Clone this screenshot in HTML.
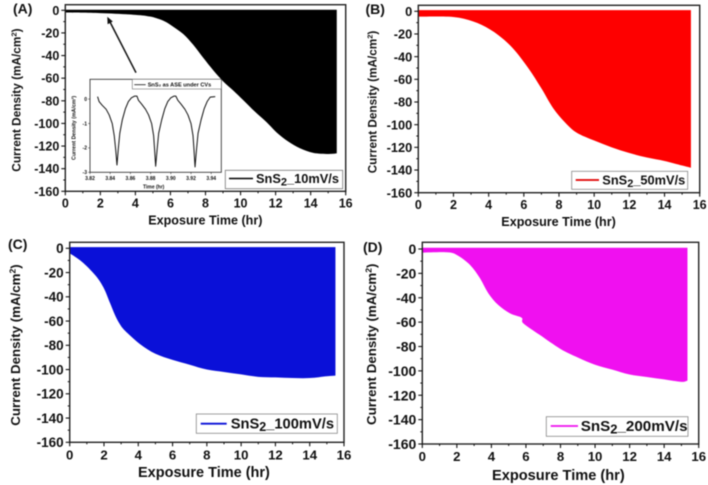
<!DOCTYPE html>
<html lang="en">
<head>
<meta charset="utf-8">
<title>SnS2 current density vs exposure time</title>
<style>
html,body{margin:0;padding:0;background:#fff;width:708px;height:485px;overflow:hidden}
svg{display:block;filter:blur(0.4px)}
text{font-family:"Liberation Sans",sans-serif;font-weight:bold;fill:#111}
</style>
</head>
<body>
<svg id="fig" xmlns="http://www.w3.org/2000/svg" width="708" height="485" viewBox="0 0 708 485">
  <rect width="708" height="485" fill="#fff"/>
  <g id="panelA"></g>
  <g id="panelB"></g>
  <g id="panelC"></g>
  <g id="panelD"></g>

  <text x="13" y="13.5" font-size="14">(A)</text>
  <text x="365.5" y="14" font-size="14">(B)</text>
  <text x="8" y="249" font-size="14">(C)</text>
  <text x="363" y="252" font-size="14">(D)</text>

  <text x="148.3" y="224.5" font-size="12.55">Exposure Time (hr)</text>
  <text x="501.3" y="226" font-size="12.6">Exposure Time (hr)</text>
  <text x="138" y="477" font-size="14.5">Exposure Time (hr)</text>
  <text x="492" y="480" font-size="14.6">Exposure Time (hr)</text>

  <text transform="translate(20.5,171.7) rotate(-90)" font-size="11.8">Current Density (mA/cm<tspan dy="-4" font-size="7.7">2</tspan><tspan dy="4">)</tspan></text>
  <text transform="translate(376.5,173.3) rotate(-90)" font-size="11.75">Current Density (mA/cm<tspan dy="-4" font-size="7.6">2</tspan><tspan dy="4">)</tspan></text>
  <text transform="translate(20,425.7) rotate(-90)" font-size="13.3">Current Density (mA/cm<tspan dy="-4.5" font-size="8.6">2</tspan><tspan dy="4.5">)</tspan></text>
  <text transform="translate(376,425) rotate(-90)" font-size="13.3">Current Density (mA/cm<tspan dy="-4.5" font-size="8.6">2</tspan><tspan dy="4.5">)</tspan></text>

  <g id="insetHolder"></g>

  <g>
    <rect x="225.3" y="170.3" width="117.4" height="18.4" fill="#fff" stroke="#777" stroke-width="0.8"/>
    <line x1="229" x2="253" y1="178.5" y2="178.5" stroke="#000" stroke-width="1.6"/>
    <text x="256" y="183" font-size="12.8">SnS<tspan dy="2.5" font-size="11">2</tspan><tspan dy="-2.5">_10mV/s</tspan></text>
  </g>
  <g>
    <rect x="571.7" y="171.3" width="116" height="18" fill="#fff" stroke="#888" stroke-width="0.8"/>
    <line x1="575.7" x2="599" y1="180" y2="180" stroke="#e00000" stroke-width="1.8"/>
    <text x="602.3" y="184.5" font-size="12.8">SnS<tspan dy="2.5" font-size="11">2</tspan><tspan dy="-2.5">_50mV/s</tspan></text>
  </g>
  <g>
    <rect x="196.3" y="414" width="141" height="19.3" fill="#fff" stroke="#888" stroke-width="0.8"/>
    <line x1="200.7" x2="226.7" y1="423.7" y2="423.7" stroke="#0a10d8" stroke-width="1.8"/>
    <text x="230.7" y="428.5" font-size="14.7">SnS<tspan dy="2.5" font-size="12.5">2</tspan><tspan dy="-2.5">_100mV/s</tspan></text>
  </g>
  <g>
    <rect x="546.3" y="416.7" width="141.7" height="19.6" fill="#fff" stroke="#888" stroke-width="0.8"/>
    <line x1="550.7" x2="578" y1="426" y2="426" stroke="#ee10ee" stroke-width="1.8"/>
    <text x="580.7" y="431" font-size="15.2">SnS<tspan dy="2.5" font-size="13">2</tspan><tspan dy="-2.5">_200mV/s</tspan></text>
  </g>
</svg>
<script>
// ---- Data ----
const xTickLabels = [0, 2, 4, 6, 8, 10, 12, 14, 16];
const yTickLabels = [0, -20, -40, -60, -80, -100, -120, -140, -160];
const xMinorTicks = [1, 3, 5, 7, 9, 11, 13, 15];
const yMinorTicks = [-10, -30, -50, -70, -90, -110, -130, -150];

const timeA = [0, 2, 4, 4.83, 5.3, 5.7, 6.16, 6.73, 7.3, 7.87, 8.44, 9.02, 9.59, 10.16, 10.82, 11.49, 12.06, 12.72, 13.39, 14.15, 15, 15.49];
const lowerA = [-2, -2.5, -4, -5.5, -7.5, -10, -14.5, -21, -30.5, -42, -53, -63, -71, -79.5, -89.6, -99, -108, -116, -122, -126, -127, -126.5];
const upperA = [0.5, 0.5, 0.5, 0.5, 0.5, 0.5, 0.5, 0.5, 0.5, 0.5, 0.5, 0.5, 0.5, 0.5, 0.5, 0.5, 0.5, 0.5, 0.5, 0.5, 0.5, 0.5];

const timeB = [0, 1.7, 2.65, 3.6, 4.55, 5.4, 6.25, 7, 7.67, 8.34, 9, 10, 11, 12, 13, 14, 15, 15.5];
const lowerB = [-4.7, -4.7, -6.8, -12, -21, -33, -50, -68, -85.5, -98, -107, -114, -120, -125, -129, -132, -136, -138];
const upperB = [1, 1, 1, 1, 1, 1, 1, 1, 1, 1, 1, 1, 1, 1, 1, 1, 1, 1];

const timeC = [0, 0.7, 1.48, 1.96, 2.35, 2.64, 2.9, 3.23, 4.1, 5, 6, 7, 8, 9, 10, 11, 12, 13, 14, 15, 15.5];
const lowerC = [-4.1, -11, -22, -32, -45, -55, -62, -68, -79, -87, -92, -96, -100, -102, -104, -106, -106.5, -107, -107, -105.5, -105];
const upperC = [1, 1, 1, 1, 1, 1, 1, 1, 1, 1, 1, 1, 1, 1, 1, 1, 1, 1, 1, 1, 1];

const timeD = [0, 1.41, 2, 2.76, 3.34, 3.82, 4.4, 5.08, 5.75, 5.85, 6.8, 8, 9, 10, 11, 12, 13, 14, 15, 15.35];
const lowerD = [-3, -2.7, -4.9, -13, -24, -36.3, -46, -52.8, -56.4, -61, -70.5, -82, -89, -95, -99, -103, -105, -107, -109, -108];
const upperD = [1, 1, 1, 1, 1, 1, 1, 1, 1, 1, 1, 1, 1, 1, 1, 1, 1, 1, 1, 1];

const insetTime = [3.8275, 3.829, 3.832, 3.836, 3.839, 3.842, 3.844, 3.8455, 3.8467, 3.848, 3.8495, 3.852, 3.855, 3.858, 3.861, 3.864, 3.8665, 3.868, 3.871, 3.875, 3.878, 3.881, 3.883, 3.884, 3.885, 3.8865, 3.888, 3.891, 3.894, 3.897, 3.900, 3.903, 3.905, 3.907, 3.910, 3.914, 3.917, 3.920, 3.922, 3.923, 3.924, 3.9255, 3.927, 3.930, 3.933, 3.936, 3.939, 3.944];
const insetCurrent = [0.1, -0.1, -0.25, -0.42, -0.65, -1.0, -1.5, -2.1, -2.7, -2.05, -1.4, -0.85, -0.4, -0.1, 0.05, 0.12, 0.12, -0.05, -0.2, -0.42, -0.65, -1.0, -1.5, -2.1, -2.75, -2.05, -1.4, -0.85, -0.4, -0.1, 0.05, 0.12, 0.12, -0.05, -0.2, -0.42, -0.65, -1.0, -1.5, -2.1, -2.78, -2.05, -1.4, -0.85, -0.4, -0.1, 0.08, 0.1];
const insetXTickLabels = [3.82, 3.84, 3.86, 3.88, 3.90, 3.92, 3.94];
const insetYTickLabels = [0, -1, -2, -3];

// ---- Drawing ----
const NS = 'http://www.w3.org/2000/svg';
function el(tag, attrs, parent) {
  const e = document.createElementNS(NS, tag);
  for (const k in attrs) e.setAttribute(k, attrs[k]);
  parent.appendChild(e);
  return e;
}
function linear(d0, d1, r0, r1) {
  return function (v) { return r0 + (v - d0) * (r1 - r0) / (d1 - d0); };
}
function areaPath(px, pyLow, pyUp) {
  const n = px.length;
  let d = 'M' + px[0].toFixed(2) + ' ' + pyUp[0].toFixed(2);
  for (let i = 1; i < n; i++) d += 'L' + px[i].toFixed(2) + ' ' + pyUp[i].toFixed(2);
  d += 'L' + px[n - 1].toFixed(2) + ' ' + pyLow[n - 1].toFixed(2);
  for (let i = n - 1; i > 0; i--) {
    const a = Math.min(i + 1, n - 1), b = i, c = i - 1, e = Math.max(i - 2, 0);
    const c1x = px[b] + (px[c] - px[a]) / 6, c1y = pyLow[b] + (pyLow[c] - pyLow[a]) / 6;
    const c2x = px[c] - (px[e] - px[b]) / 6, c2y = pyLow[c] - (pyLow[e] - pyLow[b]) / 6;
    d += 'C' + c1x.toFixed(2) + ' ' + c1y.toFixed(2) + ' ' + c2x.toFixed(2) + ' ' + c2y.toFixed(2) + ' ' + px[c].toFixed(2) + ' ' + pyLow[c].toFixed(2);
  }
  return d + 'Z';
}

function drawPanel(g, box, color, time, lower, upper, fs) {
  const x = linear(0, 16, box.l, box.r);
  const y = linear(0, -160, box.y0, box.yb);
  const area = el('path', { d: areaPath(time.map(x), lower.map(y), upper.map(y)), fill: color }, g);
  
  

  const frame = el('rect', { x: box.l, y: box.t, width: box.r - box.l, height: box.yb - box.t, fill: 'none', stroke: '#222', 'stroke-width': 1.4 }, g);
  
  

  xTickLabels.forEach(function (v) {
    const tick = el('line', { x1: x(v), x2: x(v), y1: box.yb, y2: box.yb + 4, stroke: '#111', 'stroke-width': 1.1 }, g);
    
    
    const label = el('text', { x: x(v), y: box.xLab, 'font-size': fs.x, 'text-anchor': 'middle' }, g);
    
    
    label.textContent = v;
  });
  xMinorTicks.forEach(function (v) {
    const tick = el('line', { x1: x(v), x2: x(v), y1: box.yb, y2: box.yb + 2, stroke: '#111', 'stroke-width': 1 }, g);
    
    
  });
  yTickLabels.forEach(function (v) {
    const tick = el('line', { x1: box.l - 4, x2: box.l, y1: y(v), y2: y(v), stroke: '#111', 'stroke-width': 1.1 }, g);
    
    
    const label = el('text', { x: box.l - 6, y: y(v) + fs.y * 0.36, 'font-size': fs.y, 'text-anchor': 'end' }, g);
    
    
    label.textContent = v;
  });
  yMinorTicks.forEach(function (v) {
    const tick = el('line', { x1: box.l - 2, x2: box.l, y1: y(v), y2: y(v), stroke: '#111', 'stroke-width': 1 }, g);
    
    
  });
}

drawPanel(document.getElementById('panelA'), { l: 65.3, r: 345.7, t: 4.7, y0: 10.3, yb: 191.3, xLab: 207.5 }, '#000', timeA, lowerA, upperA, { x: 12.5, y: 12.5 });
drawPanel(document.getElementById('panelB'), { l: 418.3, r: 699.7, t: 5.3, y0: 11.3, yb: 192.7, xLab: 209 }, '#fe0000', timeB, lowerB, upperB, { x: 12.5, y: 12.8 });
drawPanel(document.getElementById('panelC'), { l: 69.7, r: 344, t: 242.3, y0: 248.3, yb: 442.3, xLab: 459.5 }, '#0a10d8', timeC, lowerC, upperC, { x: 13.2, y: 13.5 });
drawPanel(document.getElementById('panelD'), { l: 422.3, r: 698.7, t: 242.3, y0: 249, yb: 444, xLab: 460.8 }, '#f010f0', timeD, lowerD, upperD, { x: 13.2, y: 14 });

(function drawInset() {
  const g = document.getElementById('insetHolder');
  const box = { l: 90, r: 221.3, t: 79.3, b: 172.3 };
  const x = linear(3.82, 3.95, box.l, box.r);
  const y = linear(-3, 0.81, box.b, box.t);

  const arrowShaft = el('line', { x1: 136, y1: 72.7, x2: 110, y2: 22, stroke: '#111', 'stroke-width': 1.5 }, g);
  
  
  const arrowHead = el('polygon', { points: '107.3,16.7 112.8,21.5 107.6,24.2', fill: '#111' }, g);
  
  

  const frame = el('rect', { x: box.l, y: box.t, width: box.r - box.l, height: box.b - box.t, fill: '#fff', stroke: '#222', 'stroke-width': 0.8 }, g);
  
  

  const path = insetTime.map(function (t, i) { return x(t).toFixed(2) + ',' + y(insetCurrent[i]).toFixed(2); }).join(' ');
  const line = el('polyline', { points: path, fill: 'none', stroke: '#111', 'stroke-width': 1, 'stroke-linejoin': 'round' }, g);
  
  

  insetXTickLabels.forEach(function (v) {
    const tick = el('line', { x1: x(v), x2: x(v), y1: box.b, y2: box.b + 1.8, stroke: '#333', 'stroke-width': 0.6 }, g);
    
    
    const label = el('text', { x: x(v), y: 180, 'font-size': 5, 'text-anchor': 'middle' }, g);
    
    
    label.textContent = v.toFixed(2);
  });
  insetYTickLabels.forEach(function (v) {
    const tick = el('line', { x1: box.l - 1.8, x2: box.l, y1: y(v), y2: y(v), stroke: '#333', 'stroke-width': 0.6 }, g);
    
    
    const label = el('text', { x: box.l - 3, y: y(v) + 1.8, 'font-size': 5, 'text-anchor': 'end' }, g);
    
    
    label.textContent = v;
  });
  const xt = el('text', { x: 153.7, y: 188.5, 'font-size': 5, 'text-anchor': 'middle' }, g);
  
  
  xt.textContent = 'Time (hr)';
  const yt = el('text', { transform: 'translate(75.5,160) rotate(-90)', 'font-size': 5.3 }, g);
  
  
  yt.textContent = 'Current Density (mA/cm\u00B2)';
  const lb = el('rect', { x: 132.3, y: 79.3, width: 89, height: 9.7, fill: '#fff', stroke: '#555', 'stroke-width': 0.5 }, g);
  
  
  const ll = el('line', { x1: 134.3, x2: 145.7, y1: 84.7, y2: 84.7, stroke: '#111', 'stroke-width': 0.8 }, g);
  
  
  const lt = el('text', { x: 147.7, y: 86.6, 'font-size': 5.6 }, g);
  
  
  lt.textContent = 'SnS\u2082 as ASE under CVs';
})();
</script>
</body>
</html>
